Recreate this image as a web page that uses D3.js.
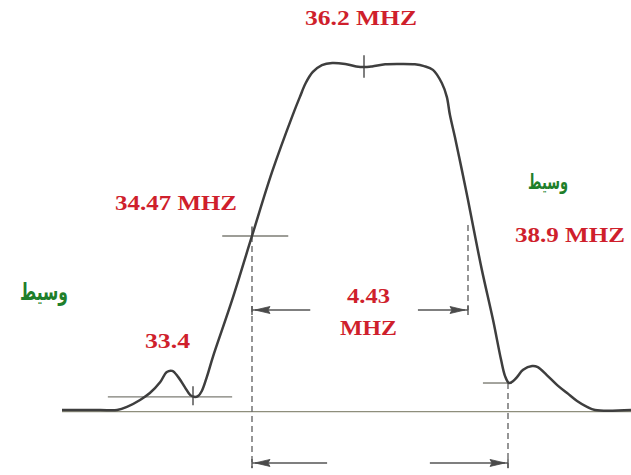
<!DOCTYPE html>
<html>
<head>
<meta charset="utf-8">
<script src="https://cdn.jsdelivr.net/npm/d3@7"></script>
<style>
  html, body { margin: 0; padding: 0; background: #ffffff; overflow: hidden; }
  svg { display: block; }
</style>
</head>
<body>
<svg id="chart" width="631" height="475"></svg>
<script>
// IF response curve: frequency (MHz) against relative level (1 = flat top)
const curveFreq = [31.00, 31.70, 32.01, 32.19, 32.43, 32.61, 32.80, 32.92, 33.02, 33.13,
  33.25, 33.35, 33.42, 33.49, 33.56, 33.65, 33.76, 34.11, 34.47, 34.78,
  35.10, 35.21, 35.30, 35.41, 35.55, 35.71, 35.91, 36.08, 36.20, 36.41,
  36.75, 37.13, 37.52, 37.76, 37.99, 38.22, 38.35, 38.43, 38.56, 38.74,
  38.90, 39.12, 39.42, 39.84, 40.14, 40.29, 40.42, 40.51, 40.59, 40.72,
  40.91, 41.03, 41.22, 41.44, 41.65, 41.86, 42.07, 42.24, 43.00];
const curveLevel = [0, 0, 0, 0.009, 0.029, 0.049, 0.081, 0.110, 0.113, 0.095,
  0.066, 0.043, 0.038, 0.040, 0.055, 0.095, 0.153, 0.318, 0.503, 0.688,
  0.853, 0.905, 0.945, 0.977, 0.997, 1.003, 1.000, 0.993, 0.991, 0.993,
  0.999, 1.000, 0.999, 0.994, 0.983, 0.945, 0.905, 0.853, 0.789, 0.694,
  0.607, 0.520, 0.405, 0.260, 0.145, 0.098, 0.078, 0.084, 0.095, 0.116,
  0.127, 0.124, 0.101, 0.072, 0.049, 0.026, 0.009, 0, 0];

// Key frequencies (MHz) used as scale anchors
const anchorFreq = [31.0, 33.4, 34.47, 36.2, 38.9, 40.4, 43.0];

// Horizontal reference marks: [from MHz, to MHz, level]
const refFrom  = [31.84, 33.93, 39.46];
const refTo    = [34.11, 35.03, 40.48];
const refLevel = [0.038, 0.503, 0.078];

// Short vertical ticks: [MHz, low level, high level]
const tickFreq = [36.2, 33.4, 34.47];
const tickLow  = [0.960, 0.014, 0.503];
const tickHigh = [1.025, 0.069, 0.530];

// Dashed drop lines: [MHz, top level, bottom level]
const dropFreq = [34.47, 38.9, 40.4];
const dropTop  = [0.503, 0.535, 0.078];
const dropBot  = [-0.168, 0.289, -0.168];

// Dimension arrows: [bar MHz, tail MHz, level]
const arrowBar  = [34.47, 38.9, 34.47, 40.4];
const arrowTail = [35.37, 37.60, 35.63, 37.91];
const arrowLvl  = [0.289, 0.289, -0.153, -0.153];

// Text
const redTexts   = ["36.2 MHZ", "34.47 MHZ", "38.9 MHZ", "33.4", "4.43", "MHZ"];
const greenTexts = ["وسيط", "وسيط"];

const svg = d3.select("#chart");

const x = d3.scaleLinear().domain(anchorFreq).range([62, 193, 252, 364, 468, 508, 631]);
const y = d3.scaleLinear().domain([0, 1]).range([410, 64]);

const curveColor = "#3e3e3e";
const thinColor = "#7d7d74";

// zero-level axis line
svg.append("line")
  .attr("x1", x(anchorFreq[0])).attr("x2", x(anchorFreq[anchorFreq.length - 1]))
  .attr("y1", y(0) + 1.6).attr("y2", y(0) + 1.6)
  .attr("stroke", "#8e8e7c").attr("stroke-width", 1.1);

// reference marks
svg.selectAll("line.ref").data(refFrom).join("line").attr("class", "ref")
  .attr("x1", (d) => x(d)).attr("x2", (d, i) => x(refTo[i]))
  .attr("y1", (d, i) => y(refLevel[i])).attr("y2", (d, i) => y(refLevel[i]))
  .attr("stroke", thinColor).attr("stroke-width", 1.4);

// ticks
svg.selectAll("line.tick").data(tickFreq).join("line").attr("class", "tick")
  .attr("x1", (d) => x(d)).attr("x2", (d) => x(d))
  .attr("y1", (d, i) => y(tickLow[i])).attr("y2", (d, i) => y(tickHigh[i]))
  .attr("stroke", "#555").attr("stroke-width", 1.5);

// dashed drop lines
svg.selectAll("line.drop").data(dropFreq).join("line").attr("class", "drop")
  .attr("x1", (d) => x(d)).attr("x2", (d) => x(d))
  .attr("y1", (d, i) => y(dropTop[i])).attr("y2", (d, i) => y(dropBot[i]))
  .attr("stroke", "#6a6a6a").attr("stroke-width", 1.4)
  .attr("stroke-dasharray", "6,4");

// dimension arrows
const arrows = svg.selectAll("g.arrow").data(arrowBar).join("g").attr("class", "arrow");
arrows.append("line")
  .attr("x1", (d) => x(d)).attr("x2", (d, i) => x(arrowTail[i]))
  .attr("y1", (d, i) => y(arrowLvl[i])).attr("y2", (d, i) => y(arrowLvl[i]))
  .attr("stroke", "#555").attr("stroke-width", 1.6);
arrows.append("path")
  .attr("d", (d, i) => {
    const bx = x(d), ty = y(arrowLvl[i]);
    const dir = x(arrowTail[i]) > bx ? 1 : -1;
    const tip = bx + dir * 3, back = bx + dir * 18;
    return `M${tip},${ty} L${back},${ty - 3.5} L${back - dir * 2},${ty} L${back},${ty + 3.5} Z`;
  })
  .attr("fill", "#4a4a4a").attr("stroke", "#4a4a4a").attr("stroke-width", 0.8);
arrows.append("line")
  .attr("x1", (d) => x(d)).attr("x2", (d) => x(d))
  .attr("y1", (d, i) => y(arrowLvl[i]) - 4).attr("y2", (d, i) => y(arrowLvl[i]) + 5)
  .attr("stroke", "#555").attr("stroke-width", 1.4);

// response curve
const line = d3.line()
  .x((d) => x(d[0])).y((d) => y(d[1]))
  .curve(d3.curveCatmullRom.alpha(0.5));
svg.append("path")
  .datum(curveFreq.map((f, i) => [f, curveLevel[i]]))
  .attr("d", line)
  .attr("fill", "none").attr("stroke", curveColor)
  .attr("stroke-width", 2.5).attr("stroke-linejoin", "round");

// red frequency labels: [left x, baseline y, width, font size]
const redBoxes = [
  [305, 25, 112, 20],
  [115, 210, 122, 22],
  [515, 242, 110, 22],
  [145, 348, 45, 20],
  [347, 303, 43, 21],
  [340, 335, 57, 22]
];
svg.selectAll("text.red").data(redTexts).join("text").attr("class", "red")
  .attr("x", (d, i) => redBoxes[i][0]).attr("y", (d, i) => redBoxes[i][1])
  .attr("textLength", (d, i) => redBoxes[i][2])
  .attr("lengthAdjust", "spacingAndGlyphs")
  .attr("font-family", "'Liberation Serif', 'Times New Roman', serif")
  .attr("font-weight", "bold")
  .attr("font-size", (d, i) => redBoxes[i][3])
  .attr("fill", "#cf1f2c")
  .text((d) => d);

// green Arabic labels: [centre x, baseline y, width, font size]
const greenBoxes = [
  [548, 189, 40, 21],
  [44, 300, 48, 24]
];
svg.selectAll("text.green").data(greenTexts).join("text").attr("class", "green")
  .attr("font-family", "'DejaVu Sans', sans-serif")
  .attr("font-weight", "bold")
  .attr("font-size", (d, i) => greenBoxes[i][3])
  .attr("fill", "#1f7f2b")
  .attr("text-anchor", "middle")
  .attr("direction", "rtl")
  .text((d) => d)
  .each(function (d, i) {
    const b = greenBoxes[i];
    const w = this.getComputedTextLength();
    const s = w > 0 ? b[2] / w : 1;
    d3.select(this).attr("transform", `translate(${b[0]},${b[1]}) scale(${s},1)`);
  });
</script>
</body>
</html>
